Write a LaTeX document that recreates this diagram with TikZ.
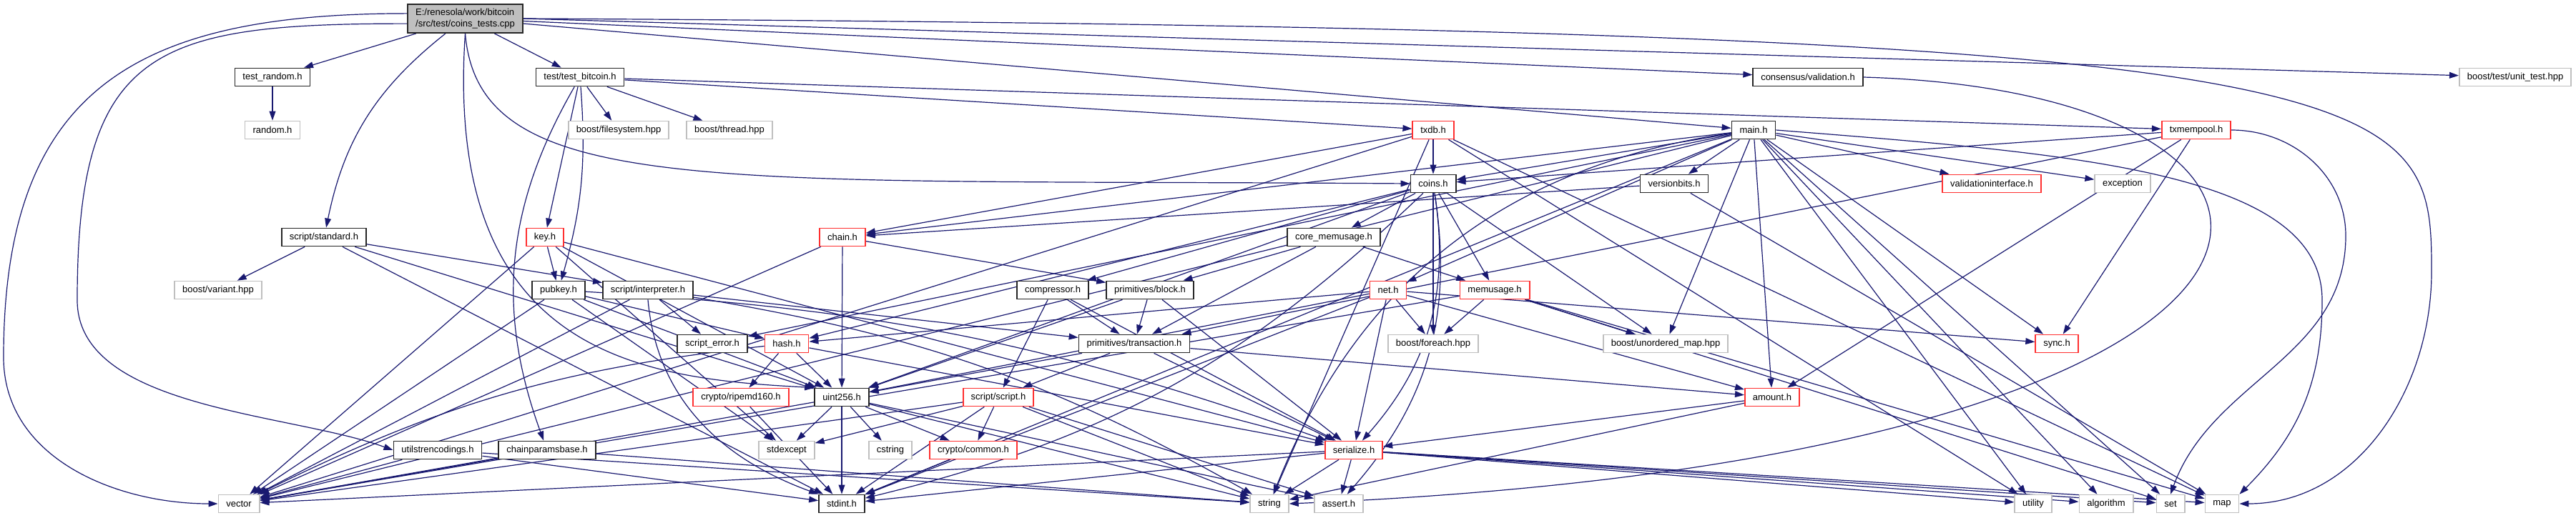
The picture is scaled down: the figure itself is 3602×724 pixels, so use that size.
\documentclass[tikz,border=0pt]{standalone}
\usepackage{fontspec}
\setmainfont{Liberation Sans}
\usepackage{tikz}
\usetikzlibrary{arrows.meta,positioning,backgrounds}
\definecolor{edgec}{HTML}{191970}
\definecolor{nodoc}{HTML}{BFBFBF}
\definecolor{trunc}{HTML}{FF3030}
\begin{document}
\begin{tikzpicture}[
  x=0.5pt,y=0.5pt,
  f/.style={draw,rectangle,fill=white,inner xsep=5.5pt,inner ysep=0pt,minimum height=12.5pt,font=\fontsize{6.5}{7.8}\selectfont,line width=0.9pt},
  h/.style={f,draw=black!85},
  r/.style={f,draw=trunc},
  g/.style={f,draw=nodoc,line width=0.8pt},
  arr/.style={-{Triangle[length=6.5pt,width=4.4pt]},draw=edgec,line width=0.6pt}
]
\useasboundingbox (0,0) rectangle (3602,-724);

\node[h,fill=black!25,align=left,minimum height=20pt] (root) at (650.5,-26) {E:/renesola/work/bitcoin\\/src/test/coins\_tests.cpp};

\node[h] (trand) at (381,-108) {test\_random.h};
\node[h] (tbit) at (811,-108) {test/test\_bitcoin.h};
\node[h] (cval) at (2528,-108) {consensus/validation.h};
\node[g] (unit) at (3517,-108) {boost/test/unit\_test.hpp};

\node[g] (rnd) at (381,-182) {random.h};
\node[g] (bfs) at (865,-182) {boost/filesystem.hpp};
\node[g] (bthr) at (1020,-182) {boost/thread.hpp};
\node[r] (txdb) at (2004,-182) {txdb.h};
\node[h] (main) at (2452,-182) {main.h};
\node[r] (txmem) at (3071,-182) {txmempool.h};

\node[h] (coins) at (2004,-257) {coins.h};
\node[h] (vbits) at (2341,-257) {versionbits.h};
\node[r] (vif) at (2785,-257) {validationinterface.h};
\node[g] (exc) at (2968,-257) {exception};

\node[h] (std) at (453,-332) {script/standard.h};
\node[r] (key) at (762,-332) {key.h};
\node[r] (chain) at (1178,-332) {chain.h};
\node[h] (cmem) at (1865,-332) {core\_memusage.h};

\node[g] (bvar) at (305,-406) {boost/variant.hpp};
\node[h] (pubkey) at (781,-406) {pubkey.h};
\node[h] (interp) at (906,-406) {script/interpreter.h};
\node[h] (compr) at (1472,-406) {compressor.h};
\node[h] (block) at (1608,-406) {primitives/block.h};
\node[r] (net) at (1941,-406) {net.h};
\node[r] (memu) at (2090,-406) {memusage.h};

\node[h] (serr) at (996,-481) {script\_error.h};
\node[r] (hash) at (1100,-481) {hash.h};
\node[h] (tx) at (1586,-481) {primitives/transaction.h};
\node[g] (bfe) at (2004,-481) {boost/foreach.hpp};
\node[g] (bum) at (2329,-481) {boost/unordered\_map.hpp};
\node[r] (sync) at (2876,-481) {sync.h};

\node[r] (ripemd) at (1036,-556) {crypto/ripemd160.h};
\node[h] (u256) at (1177,-556) {uint256.h};
\node[r] (script) at (1396,-556) {script/script.h};
\node[r] (amount) at (2478,-556) {amount.h};

\node[h] (ustr) at (612,-630) {utilstrencodings.h};
\node[h] (cpb) at (765,-630) {chainparamsbase.h};
\node[g] (stdexc) at (1100,-630) {stdexcept};
\node[g] (cstr) at (1245,-630) {cstring};
\node[r] (common) at (1361,-630) {crypto/common.h};
\node[r] (ser) at (1893,-630) {serialize.h};

\node[g] (vector) at (334,-705) {vector};
\node[h] (stdint) at (1177,-705) {stdint.h};
\node[g] (string) at (1775,-705) {string};
\node[g] (assert) at (1872,-705) {assert.h};
\node[g] (utility) at (2843,-705) {utility};
\node[g] (algorithm) at (2945,-705) {algorithm};
\node[g] (set) at (3035,-705) {set};
\node[g] (map) at (3107,-705) {map};

\coordinate (wv) at (5,-500);
\coordinate (wu) at (108,-420);
\coordinate (wm) at (3400,-380);
\coordinate (wmm) at (3247,-420);
\coordinate (wts) at (3280,-330);

\begin{scope}[on background layer]
\fill[white] (0,0) rectangle (3602,-724);
\draw[arr] (root)--(trand);
\draw[arr] (root)--(tbit);
\draw[arr] (root) to[bend right=20] (std);
\draw[arr] (root)--(cval);
\draw[arr] (root.east)--(unit);
\draw[arr] (root)--(main);
\draw[arr] (root.south) .. controls (670,-280) and (1000,-250) .. (coins.west);
\draw[arr] (root.south) .. controls (620,-500) and (900,-530) .. (u256.north west);
\draw[arr] (root.185) to[out=180,in=90,looseness=1.5] (wu) to[out=-90,in=160,looseness=0.8] (ustr.west);
\draw[arr] (root.175) to[out=180,in=90,looseness=1.3] (wv) to[out=-90,in=180] (vector.west);
\draw[arr] (root.east) .. controls (3380,-40) and (3400,-120) .. (wm) to[out=-90,in=0] (map.east);

\draw[arr] (trand)--(rnd);
\draw[arr] (tbit)--(bfs);
\draw[arr] (tbit)--(bthr);
\draw[arr] (tbit)--(key);
\draw[arr] (tbit) to[bend left=10] (pubkey);
\draw[arr] (tbit) to[bend right=25] (cpb);
\draw[arr] (tbit)--(txdb);
\draw[arr] (tbit)--(txmem);
\draw[arr] (cval.east) .. controls (3350,-130) and (3350,-640) .. (string.east);

\draw[arr] (main)--(coins);
\draw[arr] (main)--(vbits);
\draw[arr] (main)--(vif);
\draw[arr] (main)--(exc);
\draw[arr] (main)--(chain);
\draw[arr] (main)--(net);
\draw[arr] (main)--(sync);
\draw[arr] (main)--(amount);
\draw[arr] (main)--(serr);
\draw[arr] (main)--(bum);
\draw[arr] (main)--(algorithm);
\draw[arr] (main)--(set);
\draw[arr] (main)--(stdint);
\draw[arr] (main) to[bend right=30] (string);
\draw[arr] (main)--(utility);
\draw[arr] (main)--(vector);
\draw[arr] (main.east) .. controls (2900,-215) and (3247,-240) .. (wmm) to[out=-90,in=45] (map.north east);

\draw[arr] (txdb)--(coins);
\draw[arr] (txdb)--(chain);
\draw[arr] (txdb)--(map);
\draw[arr] (txdb)--(string);
\draw[arr] (txdb)--(utility);
\draw[arr] (txdb)--(vector);

\draw[arr] (txmem)--(coins);
\draw[arr] (txmem)--(amount);
\draw[arr] (txmem)--(tx);
\draw[arr] (txmem)--(sync);
\draw[arr] (txmem.east) to[out=0,in=90] (wts) to[out=-90,in=70] (set.north);

\draw[arr] (vbits)--(chain);
\draw[arr] (vbits)--(map);

\draw[arr] (coins)--(cmem);
\draw[arr] (coins)--(compr);
\draw[arr] (coins)--(memu);
\draw[arr] (coins)--(bfe);
\draw[arr] (coins)--(hash);
\draw[arr] (coins)--(u256);
\draw[arr] (coins) to[bend left=25] (ser);
\draw[arr] (coins) to[bend left=25] (assert);
\draw[arr] (coins) to[bend left=15] (stdint);
\draw[arr] (coins)--(bum);

\draw[arr] (chain)--(block);
\draw[arr] (chain)--(u256);
\draw[arr] (chain)--(vector);

\draw[arr] (std)--(bvar);
\draw[arr] (std)--(interp);
\draw[arr] (std)--(u256);
\draw[arr] (std)--(stdint);

\draw[arr] (key)--(pubkey);
\draw[arr] (key)--(ser);
\draw[arr] (key)--(u256);
\draw[arr] (key)--(stdexc);
\draw[arr] (key)--(vector);

\draw[arr] (pubkey)--(hash);
\draw[arr] (pubkey) to[bend left=8] (ser);
\draw[arr] (pubkey)--(u256);
\draw[arr] (pubkey)--(stdexc);
\draw[arr] (pubkey)--(vector);

\draw[arr] (interp)--(serr);
\draw[arr] (interp)--(tx);
\draw[arr] (interp)--(vector);
\draw[arr] (interp.south) to[out=-85,in=160] (stdint.north west);
\draw[arr] (interp) to[bend left=10] (string);

\draw[arr] (cmem)--(block);
\draw[arr] (cmem)--(tx);
\draw[arr] (cmem)--(memu);

\draw[arr] (compr)--(tx);
\draw[arr] (compr)--(script);
\draw[arr] (compr)--(ser);

\draw[arr] (block)--(tx);
\draw[arr] (block)--(ser);
\draw[arr] (block)--(u256);

\draw[arr] (net)--(hash);
\draw[arr] (net)--(u256);
\draw[arr] (net)--(ser);
\draw[arr] (net)--(bfe);
\draw[arr] (net)--(sync);
\draw[arr] (net)--(amount);
\draw[arr] (net)--(stdint);

\draw[arr] (memu)--(bfe);
\draw[arr] (memu)--(bum);
\draw[arr] (memu)--(set);
\draw[arr] (memu)--(map);
\draw[arr] (memu)--(vector);

\draw[arr] (tx)--(amount);
\draw[arr] (tx)--(script);
\draw[arr] (tx)--(ser);
\draw[arr] (tx)--(u256);

\draw[arr] (hash)--(ripemd);
\draw[arr] (hash)--(u256);
\draw[arr] (hash)--(ser);
\draw[arr] (hash) to[bend right=10] (vector);
\draw[arr] (ripemd)--(stdint);

\draw[arr] (u256)--(stdexc);
\draw[arr] (u256)--(cstr);
\draw[arr] (u256)--(common);
\draw[arr] (u256)--(stdint);
\draw[arr] (u256)--(string);
\draw[arr] (u256)--(vector);
\draw[arr] (u256)--(assert);

\draw[arr] (script)--(common);
\draw[arr] (script)--(stdexc);
\draw[arr] (script)--(stdint);
\draw[arr] (script)--(string);
\draw[arr] (script)--(vector);
\draw[arr] (script)--(assert);
\draw[arr] (common)--(stdint);

\draw[arr] (amount)--(ser);
\draw[arr] (amount)--(string);

\draw[arr] (ser)--(algorithm);
\draw[arr] (ser)--(assert);
\draw[arr] (ser)--(map);
\draw[arr] (ser)--(set);
\draw[arr] (ser)--(stdint);
\draw[arr] (ser)--(string);
\draw[arr] (ser)--(utility);
\draw[arr] (ser)--(vector);

\draw[arr] (ustr)--(stdint);
\draw[arr] (ustr)--(string);
\draw[arr] (ustr)--(vector);
\draw[arr] (cpb)--(string);
\draw[arr] (cpb)--(vector);
\end{scope}
\end{tikzpicture}
\end{document}
